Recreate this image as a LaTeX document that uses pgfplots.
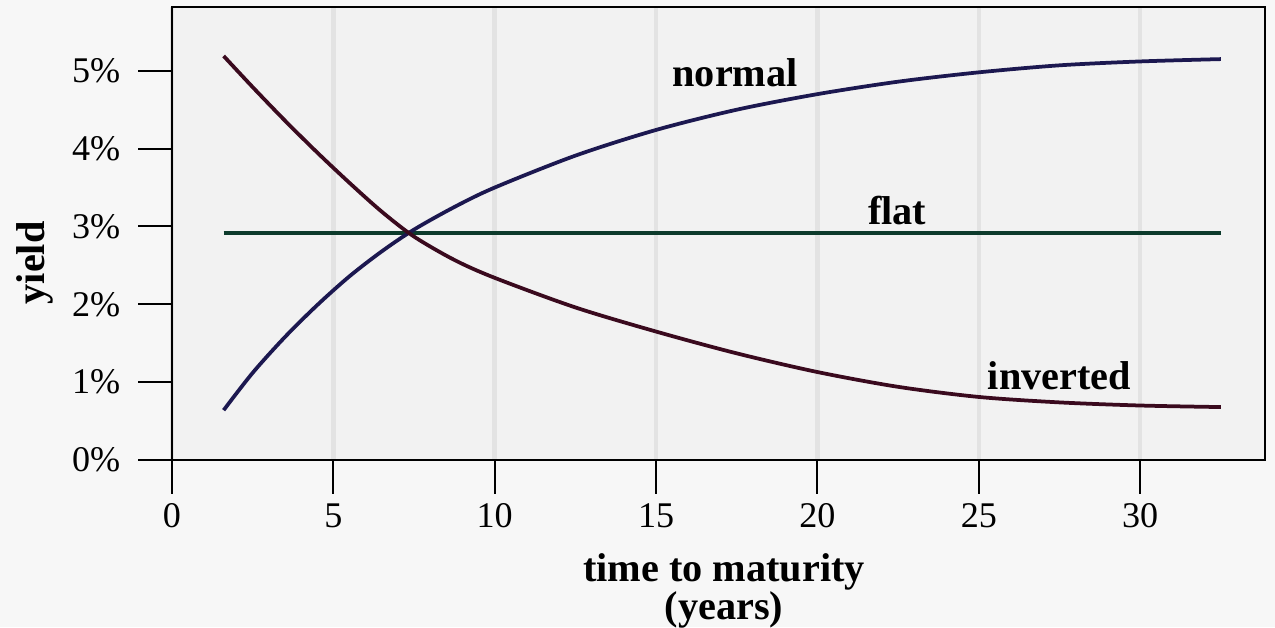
\documentclass[border=0pt]{standalone}
\usepackage{pgfplots}
\pgfplotsset{compat=1.18}
\usepackage{fontspec}
\setmainfont{Liberation Serif}
\definecolor{pagebg}{HTML}{F7F7F7}
\definecolor{plotbg}{HTML}{F2F2F2}
\definecolor{gridc}{HTML}{E3E3E3}
\definecolor{normalc}{HTML}{1C1850}
\definecolor{invc}{HTML}{3A0A1E}
\definecolor{flatc}{HTML}{0D3B2C}
\begin{document}
\begin{tikzpicture}
\path[use as bounding box, fill=pagebg] (-61.92pt,-60.12pt) rectangle (397.08pt,165.6pt);
\begin{axis}[
  at={(0pt,0pt)}, anchor=south west,
  scale only axis, width=393.5pt, height=163.1pt,
  xmin=0, xmax=33.87, ymin=0, ymax=5.82,
  axis background/.style={fill=plotbg},
  xtick={0,5,...,30}, ytick={0,1,...,5},
  yticklabel={\pgfmathprintnumber{\tick}\%},
  /pgf/number format/assume math mode=true,
  tick align=outside, xtick pos=bottom, ytick pos=left,
  major tick length=12.2pt,
  every tick/.style={black, line width=0.7pt},
  axis line style={line width=0.9pt},
  xmajorgrids, x grid style={gridc, line width=1.6pt},
  tick label style={font=\fontsize{13}{15}\selectfont},
  yticklabel shift=2.9pt,
  xlabel={time to maturity\\(years)},
  xlabel style={at={(axis description cs:0.505,-0.2053)}, anchor=north, inner sep=0pt, align=center, font=\fontsize{14.5}{13.7}\selectfont\bfseries},
  ylabel={yield},
  ylabel style={at={(axis description cs:-0.1253,0.435)}, anchor=center, inner sep=0pt, font=\fontsize{14.5}{16}\selectfont\bfseries},
]
\addplot[flatc, line width=1.35pt] coordinates {(1.6,2.92) (32.5,2.92)};
\addplot[normalc, line width=1.35pt, smooth] coordinates {
 (1.6,0.64) (2.5,1.12) (3.5,1.58) (4.5,1.99) (5.5,2.36) (6.5,2.68)
 (7.5,2.96) (8.75,3.25) (10,3.50) (12.5,3.91) (15,4.24) (17.5,4.50)
 (20,4.70) (22.5,4.86) (25,4.98) (27.5,5.07) (30,5.12) (32.5,5.15)};
\addplot[invc, line width=1.35pt, smooth] coordinates {
 (1.6,5.19) (2.5,4.79) (3.5,4.36) (4.5,3.95) (5.5,3.56) (6.5,3.19)
 (7.5,2.87) (8.75,2.57) (10,2.34) (12.5,1.96) (15,1.65) (17.5,1.37)
 (20,1.13) (22.5,0.94) (25,0.81) (27.5,0.74) (30,0.70) (32.5,0.68)};
\node[font=\fontsize{14.5}{16}\selectfont\bfseries] at (axis cs:17.45,4.97) {normal};
\node[font=\fontsize{14.5}{16}\selectfont\bfseries] at (axis cs:22.47,3.21) {flat};
\node[font=\fontsize{14.5}{16}\selectfont\bfseries] at (axis cs:27.5,1.08) {inverted};
\end{axis}
\end{tikzpicture}
\end{document}
